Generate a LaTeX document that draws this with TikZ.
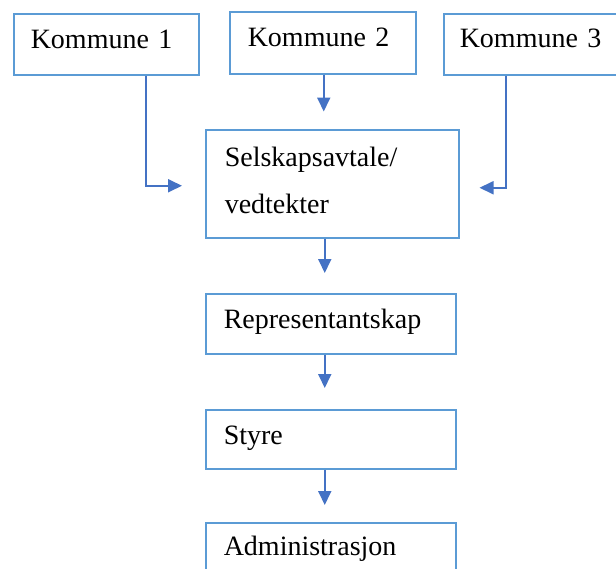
\documentclass[tikz,border=0pt]{standalone}
\usepackage{fontspec}
\setmainfont{Liberation Serif}
\usetikzlibrary{arrows.meta,calc}
\definecolor{boxblue}{HTML}{5B9BD5}
\definecolor{arrblue}{HTML}{4472C4}
\begin{document}
\begin{tikzpicture}[x=1pt,y=-1pt,
  orgbox/.style={draw=boxblue, line width=1.5pt, fill=white, anchor=north west,
    inner ysep=0pt, align=left, font=\fontsize{28}{47}\selectfont},
  arr/.style={draw=arrblue, line width=1.8pt, -{Triangle[length=14pt,width=13pt]}}]
\useasboundingbox (0,0) rectangle (616,568);
\clip (0,0) rectangle (616,568);
\fill[white] (0,0) rectangle (616,568);
% top row
\node[orgbox, inner xsep=17pt, text width=151pt, text height=35pt, text depth=26pt] (K1) at (13,13) {Kommune 1};
\node[orgbox, inner xsep=18pt, text width=150pt, text height=35pt, text depth=27pt] (K2) at (229,11) {Kommune 2};
\node[orgbox, inner xsep=16pt, text width=155pt, text height=34pt, text depth=27pt] (K3) at (443,13) {Kommune 3};
% column
\node[orgbox, inner xsep=19pt, text width=215pt, text height=37pt, text depth=71pt] (Sels) at (205,129) {Selskapsavtale/\\vedtekter};
\node[orgbox, inner xsep=18pt, text width=214pt, text height=35pt, text depth=25pt] (Repr) at (205,293) {Representantskap};
\node[orgbox, inner xsep=18pt, text width=214pt, text height=35pt, text depth=24pt] (Styre) at (205,409) {Styre};
\node[orgbox, inner xsep=18pt, text width=214pt, text height=33pt, text depth=40pt] (Admin) at (205,522) {Administrasjon};
% connectors
\draw[arr] ($(K1.south)+(39.5,0)$) |- ($(Sels.west)+(-23,2)$);
\draw[arr] ($(K2.south)+(1,0)$) -- ($(K2.south)+(1,37)$);
\draw[arr] ($(K3.south)+(-31.5,0)$) |- ($(Sels.east)+(20,4)$);
\draw[arr] ($(Sels.south)+(-7.5,0)$) -- ($(Repr.north)+(-6,-20)$);
\draw[arr] ($(Repr.south)+(-6,0)$) -- ($(Styre.north)+(-6,-21)$);
\draw[arr] ($(Styre.south)+(-6,0)$) -- ($(Admin.north)+(-6,-17)$);
\end{tikzpicture}
\end{document}
